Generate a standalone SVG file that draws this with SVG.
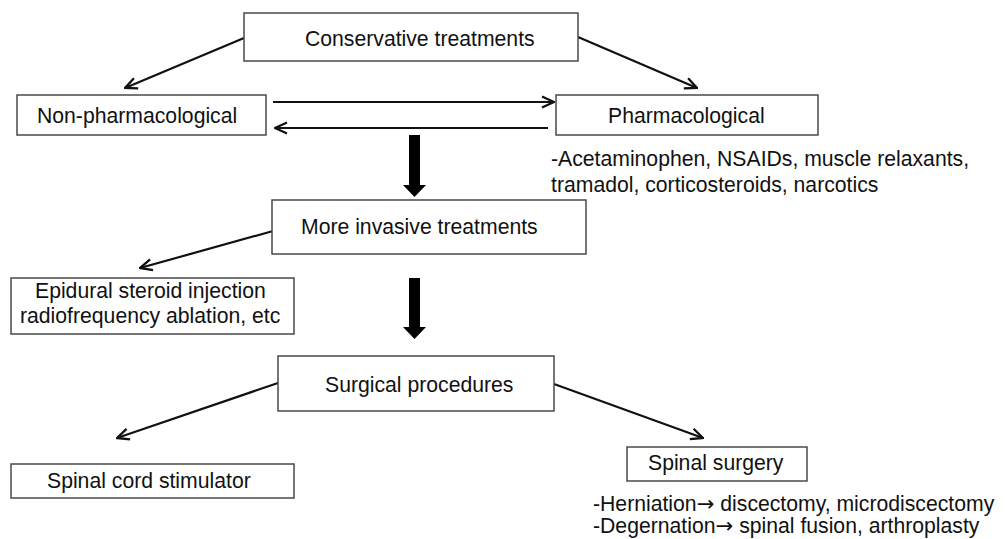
<svg xmlns="http://www.w3.org/2000/svg" width="1005" height="539" viewBox="0 0 1005 539">
<style>
.box{fill:#fff;stroke:#4a4a4a;stroke-width:1.5}
.t{font-family:"Liberation Sans",Arial,sans-serif;font-size:21.2px;fill:#111}
.ar{font-family:"DejaVu Sans",sans-serif}
.c{stroke:#111;stroke-width:2.2;fill:none}
.thick{fill:#000}
</style>
<defs>
<marker id="ah" viewBox="0 0 14 14" refX="13" refY="7" markerWidth="14" markerHeight="14" markerUnits="userSpaceOnUse" orient="auto">
<path d="M1,1.5 L13,7 L1,12.5" fill="none" stroke="#111" stroke-width="2.3"/>
</marker>
</defs>
<rect width="1005" height="539" fill="#fff"/>
<g id="connectors">
<line class="c" x1="244" y1="38" x2="125" y2="88" marker-end="url(#ah)"/>
<line class="c" x1="578" y1="37" x2="697" y2="88" marker-end="url(#ah)"/>
<line class="c" x1="273" y1="102" x2="554" y2="102" marker-end="url(#ah)"/>
<line class="c" x1="548" y1="128" x2="275" y2="128" marker-end="url(#ah)"/>
<polygon class="thick" points="409,135 420,135 420,185 426,185 414.5,197 403,185 409,185"/>
<line class="c" x1="273" y1="231" x2="140" y2="268" marker-end="url(#ah)"/>
<polygon class="thick" points="409,278 420,278 420,327 426,327 414.5,339 403,327 409,327"/>
<line class="c" x1="278" y1="383" x2="117" y2="438" marker-end="url(#ah)"/>
<line class="c" x1="554" y1="384" x2="703" y2="438" marker-end="url(#ah)"/>
</g>
<g id="conservative">
<rect class="box" x="244" y="13" width="334" height="48"/>
<text class="t" x="305" y="46">Conservative treatments</text>
</g>
<g id="nonpharm">
<rect class="box" x="17" y="95" width="249" height="40"/>
<text class="t" x="37" y="123">Non-pharmacological</text>
</g>
<g id="pharm">
<rect class="box" x="556" y="95" width="262" height="40"/>
<text class="t" x="608" y="123">Pharmacological</text>
</g>
<g id="pharm-list">
<text class="t" x="551" y="166">-Acetaminophen, NSAIDs, muscle relaxants,</text>
<text class="t" x="551" y="192">tramadol, corticosteroids, narcotics</text>
</g>
<g id="invasive">
<rect class="box" x="272" y="200" width="314" height="54"/>
<text class="t" x="301" y="234">More invasive treatments</text>
</g>
<g id="epidural">
<rect class="box" x="11" y="278" width="283" height="56"/>
<text class="t" x="35" y="298">Epidural steroid injection</text>
<text class="t" x="20" y="323">radiofrequency ablation, etc</text>
</g>
<g id="surgical">
<rect class="box" x="278" y="356" width="276" height="55"/>
<text class="t" x="325" y="392">Surgical procedures</text>
</g>
<g id="scs">
<rect class="box" x="11" y="464" width="283" height="34"/>
<text class="t" x="47" y="488">Spinal cord stimulator</text>
</g>
<g id="spinal-surgery">
<rect class="box" x="627" y="447" width="180" height="34"/>
<text class="t" x="648" y="470">Spinal surgery</text>
</g>
<g id="surgery-list">
<text class="t" x="593" y="511">-Herniation<tspan class="ar">→</tspan> discectomy, microdiscectomy</text>
<text class="t" x="593" y="533">-Degernation<tspan class="ar">→</tspan> spinal fusion, arthroplasty</text>
</g>
</svg>
